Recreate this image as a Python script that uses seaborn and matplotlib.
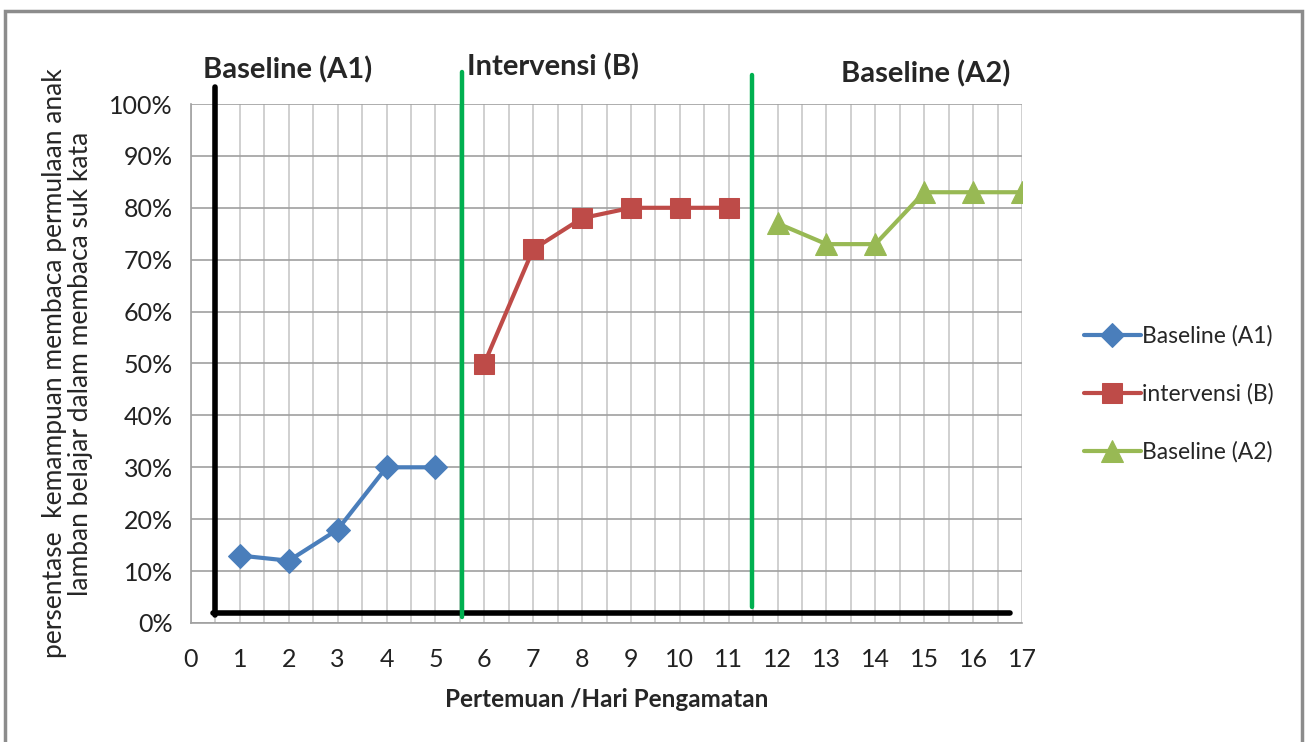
import pandas as pd
import matplotlib
matplotlib.use('Agg')
import matplotlib.pyplot as plt
from matplotlib.patches import Rectangle
from matplotlib.ticker import PercentFormatter, MultipleLocator
import seaborn as sns

# data
days_a1 = [1, 2, 3, 4, 5]
vals_a1 = [0.13, 0.12, 0.18, 0.30, 0.30]
days_b = [6, 7, 8, 9, 10, 11]
vals_b = [0.50, 0.72, 0.78, 0.80, 0.80, 0.80]
days_a2 = [12, 13, 14, 15, 16, 17]
vals_a2 = [0.77, 0.73, 0.73, 0.83, 0.83, 0.83]
series_names = ['Baseline (A1)', 'intervensi (B)', 'Baseline (A2)']
phase_titles = ['Baseline (A1)', 'Intervensi (B)', 'Baseline (A2)']
phase_title_x = [0.25, 5.65, 13.3]
phase_title_y = [1.066, 1.072, 1.058]
# phase divider lines (x, y0, y1)
green_lines = [(5.54, 0.012, 1.062), (11.48, 0.031, 1.056)]

colors = ['#4A7EBB', '#BE4B48', '#98B954']
markers = ['D', 's', '^']
msizes = [12.5, 14, 15.5]

df = pd.concat([
    pd.DataFrame({'day': days_a1, 'value': vals_a1, 'phase': series_names[0]}),
    pd.DataFrame({'day': days_b, 'value': vals_b, 'phase': series_names[1]}),
    pd.DataFrame({'day': days_a2, 'value': vals_a2, 'phase': series_names[2]}),
])

sns.set_style('white')
plt.rcParams['font.family'] = ['Lato', 'DejaVu Sans']

fig = plt.figure(figsize=(13.06, 7.42), dpi=100)
ax = fig.add_axes([191 / 1306, 1 - 623 / 742, 831 / 1306, 519 / 742])

for name, col, mk, ms in zip(series_names, colors, markers, msizes):
    sub = df[df['phase'] == name]
    sns.lineplot(data=sub, x='day', y='value', ax=ax, color=col, marker=mk,
                 markersize=ms, markeredgecolor=col, linewidth=3, label=name,
                 zorder=5)

ax.set_xlim(0, 17)
ax.set_ylim(0, 1.0)
ax.xaxis.set_major_locator(MultipleLocator(1))
ax.xaxis.set_minor_locator(MultipleLocator(0.5))
ax.yaxis.set_major_locator(MultipleLocator(0.1))
ax.yaxis.set_major_formatter(PercentFormatter(1.0, decimals=0))
ax.grid(True, which='both', axis='x', color='#c8c8c8', linewidth=1.2)
ax.grid(True, which='major', axis='y', color='#a0a0a0', linewidth=1.2)
ax.set_axisbelow(True)
for s in ['top', 'right']:
    ax.spines[s].set_visible(False)
for s in ['left', 'bottom']:
    ax.spines[s].set_color('#a0a0a0')
    ax.spines[s].set_linewidth(1.2)
ax.tick_params(axis='both', which='major', direction='out', length=8,
               color='#a0a0a0', width=1.2, labelsize=18, labelcolor='#222222')
ax.tick_params(axis='x', which='minor', length=0)
ax.tick_params(axis='x', pad=10)
ax.tick_params(axis='y', pad=5)

ax.set_xlabel('Pertemuan /Hari Pengamatan', fontsize=17.5, fontweight='bold', labelpad=12)
ax.set_ylabel('persentase  kemampuan membaca permulaan anak\nlamban belajar dalam membaca suk kata',
              fontsize=19, labelpad=12, linespacing=1.05)

# phase separators
ax.plot([0.49, 0.49], [0.015, 1.033], color='black', linewidth=4, clip_on=False, zorder=6)
ax.plot([0.45, 16.75], [0.019, 0.019], color='black', linewidth=4, clip_on=False, zorder=6)
for gx, gy0, gy1 in green_lines:
    ax.plot([gx, gx], [gy0, gy1], color='#00B050', linewidth=3.2, clip_on=False, zorder=6)
for t, tx, ty in zip(phase_titles, phase_title_x, phase_title_y):
    ax.text(tx, ty, t, fontsize=21, fontweight='bold', ha='left', va='center')

ax.legend_.remove()
handles, labels = ax.get_legend_handles_labels()
fig.legend(handles, labels, loc='center left', bbox_to_anchor=(1063 / 1306, 0.469),
           frameon=False, fontsize=16.5, labelspacing=1.6, handlelength=2.5,
           handletextpad=0.05)

# outer frame
fig.patches.append(Rectangle((5 / 1306, -0.05), 1297 / 1306, 1 - 11 / 742 + 0.05,
                             transform=fig.transFigure, fill=False,
                             edgecolor='#8c8c8c', linewidth=2.5))

fig.savefig('out.png', dpi=100)
